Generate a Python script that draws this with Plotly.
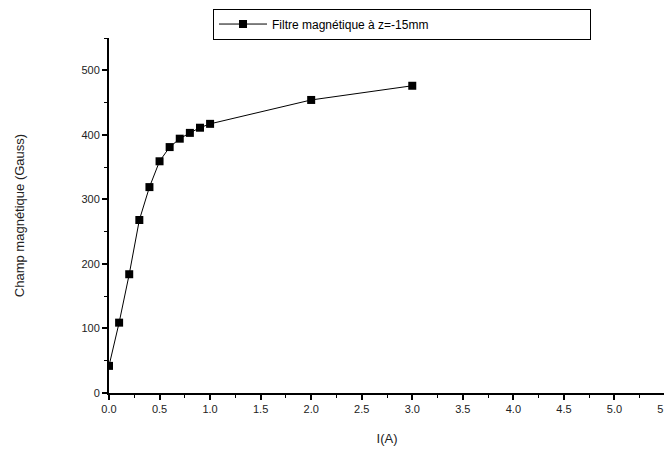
import plotly.graph_objects as go

current_A = [0.0, 0.1, 0.2, 0.3, 0.4, 0.5, 0.6, 0.7, 0.8, 0.9, 1.0, 2.0, 3.0]
field_G = [42, 109, 184, 268, 319, 359, 381, 394, 403, 411, 417, 454, 476]
series_name = "Filtre magnétique à z=-15mm"
x_title = "I(A)"
y_title = "Champ magnétique (Gauss)"

fig = go.Figure()
fig.add_trace(go.Scatter(
    x=current_A, y=field_G, mode="lines+markers", name=series_name,
    line=dict(color="black", width=1),
    marker=dict(symbol="square", size=8, color="black"),
    showlegend=True,
))

font_family = "Liberation Sans, Arial, sans-serif"
# the page body has an 8px margin, so the figure is sized/offset to compensate
fig.update_layout(
    width=664, height=444,
    margin=dict(l=101, r=7, t=30, b=59, autoexpand=False),
    paper_bgcolor="white", plot_bgcolor="white",
    font=dict(family=font_family, size=12, color="#222"),
    showlegend=True,
    legend=dict(
        x=0.527, y=1.083, xanchor="center", yanchor="top",
        orientation="h", entrywidth=313,
        bordercolor="black", borderwidth=1, bgcolor="white",
        font=dict(size=12, color="black"),
        itemwidth=48,
    ),
    xaxis=dict(
        range=[0, 5.5], dtick=0.5, tickformat=".1f",
        showline=True, linecolor="black", linewidth=2,
        ticks="outside", ticklen=5, tickwidth=1.5, tickcolor="black",
        minor=dict(dtick=0.25, ticks="outside", ticklen=3, tickcolor="black", tickwidth=1),
        showgrid=False, zeroline=False, automargin=False,
        ticklabeloverflow="allow",
        tickfont=dict(size=11),
        title=dict(text=x_title, font=dict(size=13), standoff=20),
    ),
    yaxis=dict(
        range=[0, 550], dtick=100,
        showline=True, linecolor="black", linewidth=2,
        ticks="outside", ticklen=5, tickwidth=1.5, tickcolor="black",
        minor=dict(dtick=50, ticks="outside", ticklen=3, tickcolor="black", tickwidth=1),
        showgrid=False, zeroline=False, automargin=False,
        tickfont=dict(size=11),
        title=dict(text=y_title, font=dict(size=13), standoff=54),
    ),
)

fig.write_html("out.html")
